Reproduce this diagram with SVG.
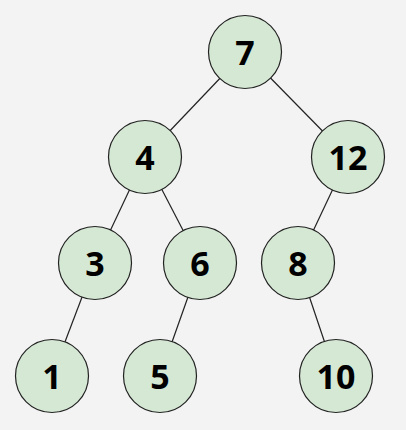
<svg xmlns="http://www.w3.org/2000/svg" width="406" height="430" viewBox="0 0 406 430">
<style>
.n circle{fill:#d5e8d4;stroke:#222;stroke-width:1.2}
.n text{font-family:"Noto Sans","DejaVu Sans",sans-serif;font-weight:bold;font-size:34px;fill:#000;text-anchor:middle;dominant-baseline:central}
#edges line{stroke:#222;stroke-width:1.2}
</style>
<rect width="406" height="430" fill="#f3f3f3"/>
<g id="edges">
<line x1="245" y1="52" x2="145" y2="157"/>
<line x1="245" y1="52" x2="348" y2="157"/>
<line x1="145" y1="157" x2="95" y2="263"/>
<line x1="145" y1="157" x2="200" y2="263"/>
<line x1="348" y1="157" x2="298" y2="263"/>
<line x1="95" y1="263" x2="52" y2="376"/>
<line x1="200" y1="263" x2="160" y2="376"/>
<line x1="298" y1="263" x2="336" y2="376"/>
</g>
<g id="n7" class="n"><circle cx="245" cy="52" r="36.5"/><text x="245" y="52">7</text></g>
<g id="n4" class="n"><circle cx="145" cy="157" r="36.5"/><text x="145" y="157">4</text></g>
<g id="n12" class="n"><circle cx="348" cy="157" r="36.5"/><text x="348" y="157">12</text></g>
<g id="n3" class="n"><circle cx="95" cy="263" r="36.5"/><text x="95" y="263">3</text></g>
<g id="n6" class="n"><circle cx="200" cy="263" r="36.5"/><text x="200" y="263">6</text></g>
<g id="n8" class="n"><circle cx="298" cy="263" r="36.5"/><text x="298" y="263">8</text></g>
<g id="n1" class="n"><circle cx="52" cy="376" r="36.5"/><text x="52" y="376">1</text></g>
<g id="n5" class="n"><circle cx="160" cy="376" r="36.5"/><text x="160" y="376">5</text></g>
<g id="n10" class="n"><circle cx="336" cy="376" r="36.5"/><text x="336" y="376">10</text></g>
</svg>
